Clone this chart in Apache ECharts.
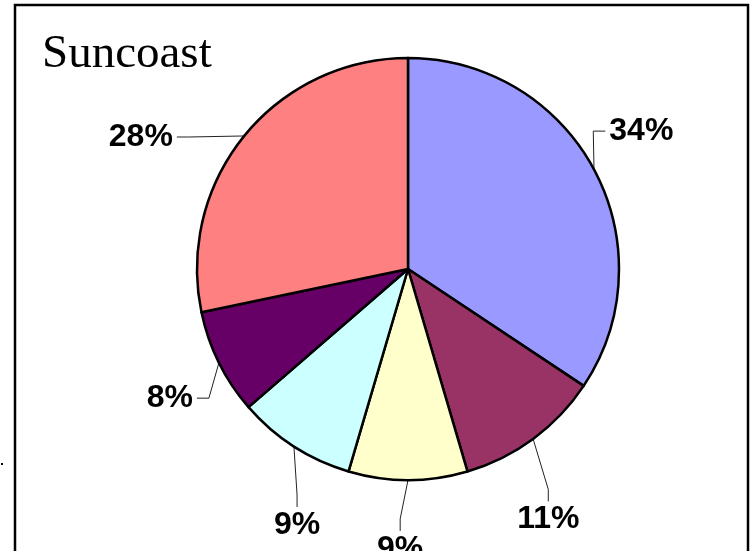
<!DOCTYPE html>
<html>
<head>
<meta charset="utf-8">
<script src="https://cdn.jsdelivr.net/npm/echarts@6/dist/echarts.min.js"></script>
<style>
html,body{margin:0;padding:0;background:#fff;}
#chart{width:752px;height:551px;}
</style>
</head>
<body>
<div id="chart"></div>
<script>
// ---- data ----
const chartTitle = 'Suncoast';
const sliceNames = ['Slice 1', 'Slice 2', 'Slice 3', 'Slice 4', 'Slice 5', 'Slice 6'];
const shares = [34, 11, 9, 9, 8, 28];

// ---- styling / layout (not data) ----
const sliceColors = ['#9999FF', '#993366', '#FFFFCC', '#CCFFFF', '#660066', '#FF8080'];
const PIE_CX = 408, PIE_CY = 269, PIE_R = 211;
// label placement: [angle shift from slice mid-angle (deg), distance from centre (px)]
const labelShift = [[2.4, 271], [-7.1, 287], [-1.6, 280], [9.3, 279], [2.1, 271], [12.8, 298]];

const total = shares.reduce((a, b) => a + b, 0);
function midAngleRad(i) {
  let before = 0;
  for (let k = 0; k < i; k++) before += shares[k];
  const clockFromTop = (before + shares[i] / 2) / total * 2 * Math.PI;
  return Math.PI / 2 - clockFromTop; // math angle (y up)
}

const chart = echarts.init(document.getElementById('chart'));
const option = {
  backgroundColor: '#ffffff',
  animation: false,
  title: {
    text: chartTitle,
    left: 42,
    top: 31,
    padding: 0,
    textStyle: { fontFamily: 'Liberation Serif', fontWeight: 'normal', fontSize: 47, color: '#000' }
  },
  graphic: [
    { type: 'rect', shape: { x: 15, y: 5, width: 733, height: 600 },
      style: { fill: 'none', stroke: '#000', lineWidth: 2.5 }, z: 10 },
    { type: 'rect', shape: { x: 1, y: 463, width: 2, height: 2 },
      style: { fill: '#000' } }
  ],
  series: [{
    type: 'pie',
    center: [PIE_CX, PIE_CY],
    radius: PIE_R,
    startAngle: 90,
    clockwise: true,
    avoidLabelOverlap: false,
    data: shares.map((v, i) => ({ name: sliceNames[i], value: v, itemStyle: { color: sliceColors[i] } })),
    itemStyle: { borderColor: '#000', borderWidth: 2.5 },
    label: {
      show: true,
      position: 'outside',
      formatter: '{c}%',
      fontFamily: 'Liberation Sans',
      fontWeight: 'bold',
      fontSize: 32,
      color: '#000'
    },
    labelLine: { show: true, length: 20, length2: 10, smooth: false,
      lineStyle: { color: '#222', width: 1 } },
    emphasis: { disabled: true },
    labelLayout: function (params) {
      const i = params.dataIndex;
      const a0 = midAngleRad(i);
      const a = a0 + labelShift[i][0] * Math.PI / 180;
      const r = labelShift[i][1];
      const lx = PIE_CX + r * Math.cos(a);
      const ly = PIE_CY - r * Math.sin(a);
      const ex = PIE_CX + PIE_R * Math.cos(a0);
      const ey = PIE_CY - PIE_R * Math.sin(a0);
      const w = params.labelRect.width, h = params.labelRect.height;
      const dx = lx - ex, dy = ly - ey;
      let end, bend;
      if (dy > 0 && Math.abs(dy) > Math.abs(dx)) {
        end = [lx, ly - h / 2 - 2];
        bend = [lx, end[1] - 12];
      } else {
        const s = dx > 0 ? -1 : 1;
        end = [lx + s * (w / 2 + 4), ly];
        bend = [end[0] + s * 12, ly];
      }
      return {
        x: lx, y: ly, align: 'center', verticalAlign: 'middle',
        labelLinePoints: [[ex, ey], bend, end]
      };
    }
  }]
};
chart.setOption(option);
</script>
</body>
</html>
